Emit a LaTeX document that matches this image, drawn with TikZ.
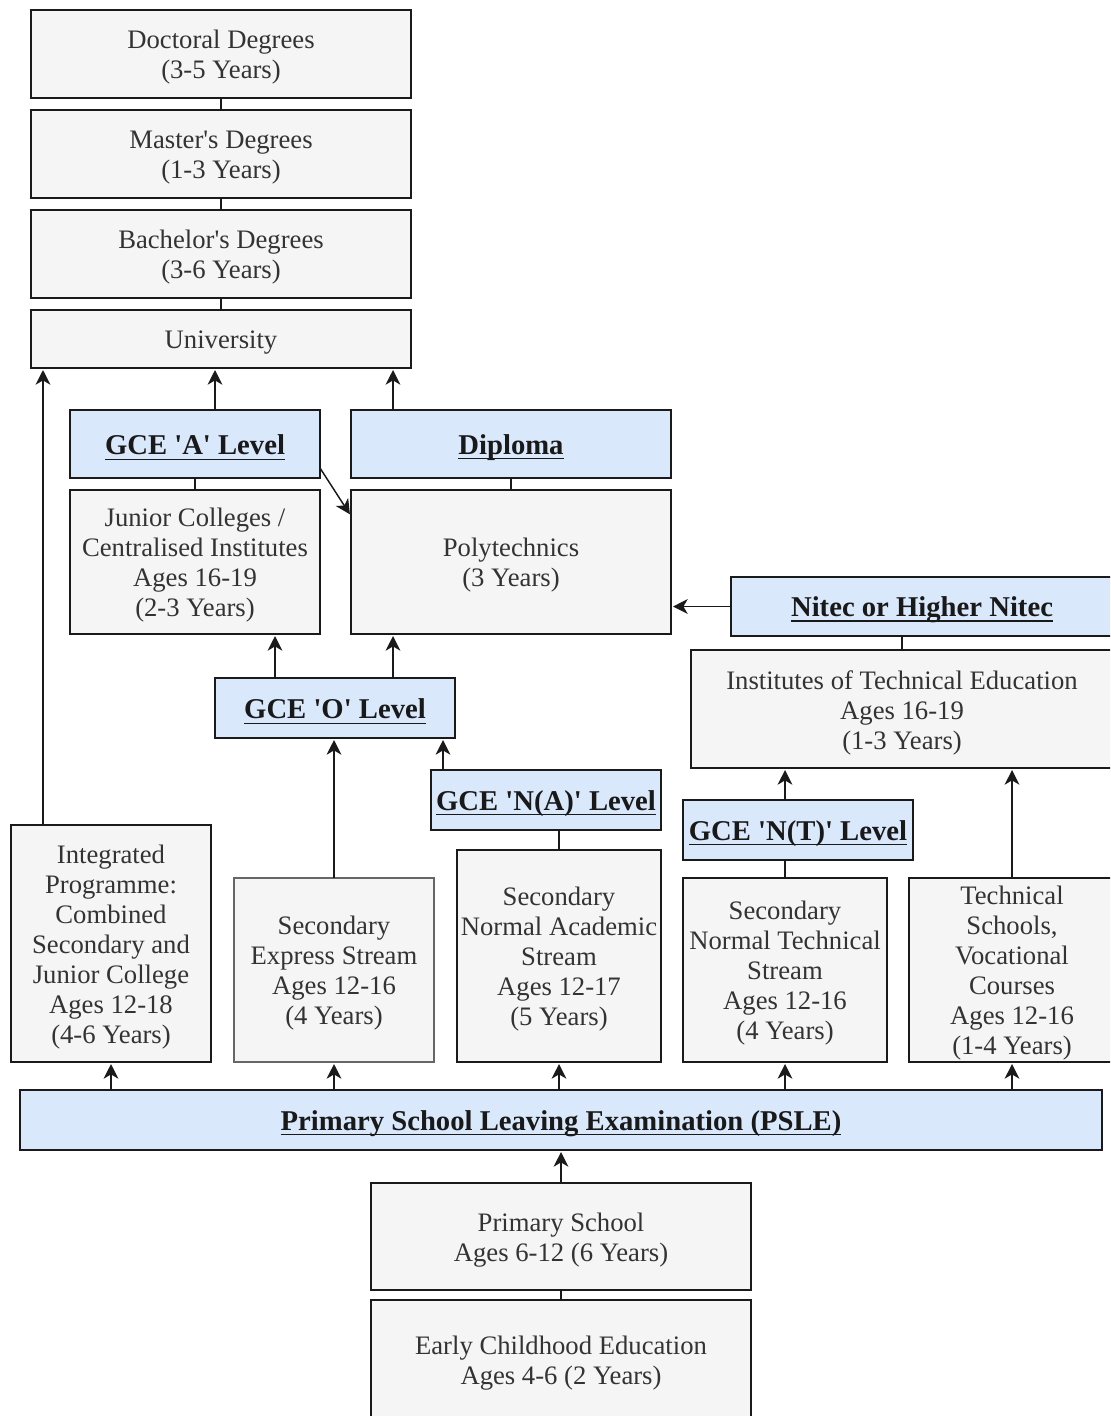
\documentclass[tikz,border=0pt]{standalone}
\usepackage{fontspec}
\setmainfont{Liberation Serif}
\usetikzlibrary{arrows.meta}

\definecolor{boxgrey}{HTML}{F5F5F5}
\definecolor{boxblue}{HTML}{DAE8FC}
\definecolor{edge}{HTML}{1A1A1A}
\definecolor{txt}{HTML}{333333}

% \placebox{name}{x1}{y1}{x2}{y2}{kind}{text}: box given by its corners (px, y downwards),
% with its text set a little below the geometric centre
\newcommand{\placebox}[7]{%
  \node[#6, minimum width={(#4-#2)*0.75pt}, minimum height={(#5-#3)*0.75pt}]
    (#1) at ({(#2+#4)/2},{(#3+#5)/2}) {};
  \node[#6 text] (#1-t) at ([yshift=-2.6pt]#1.center) {#7};}
\newcommand{\q}{\textquotesingle}
% underline at a fixed depth below the baseline
\newcommand{\underl}[1]{\leavevmode\setbox0=\hbox{#1}\rlap{\rule[-0.17em]{\wd0}{0.9pt}}\box0}

\tikzset{
  base/.style={rectangle, draw=edge, line width=1.1pt, inner sep=0pt, outer sep=0pt},
  grey/.style={base, fill=boxgrey},
  greysoft/.style={grey, draw=black!60, line width=2pt},
  blue/.style={base, fill=boxblue},
  grey text/.style={inner sep=0pt, align=center, text=txt, font=\fontsize{20}{22.5}\selectfont},
  greysoft text/.style={grey text},
  blue text/.style={inner sep=0pt, align=center, text=black!90, font=\fontsize{21.5}{24}\selectfont\bfseries},
  arr/.style={draw=edge, line width=1.1pt, -{Stealth[length=11pt,width=11pt,inset=3.2pt]}, shorten >=1.5pt},
  link/.style={draw=edge, line width=1.1pt},
}

\begin{document}
\begin{tikzpicture}[x=0.75pt, y=-0.75pt]
\useasboundingbox (0,0) rectangle (1110,1416);
\fill[white] (0,0) rectangle (1110,1416);
\clip (0,0) rectangle (1110,1416);

% higher education
\placebox{doc}{31}{10}{411}{98}{grey}{Doctoral Degrees\\(3-5 Years)}
\placebox{mas}{31}{110}{411}{198}{grey}{Master\q s Degrees\\(1-3 Years)}
\placebox{bac}{31}{210}{411}{298}{grey}{Bachelor\q s Degrees\\(3-6 Years)}
\placebox{uni}{31}{310}{411}{368}{grey}{University}

% post-secondary
\placebox{alev}{70}{410}{320}{478}{blue}{\underl{GCE \q A\q\ Level}}
\placebox{dip}{351}{410}{671}{478}{blue}{\underl{Diploma}}
\placebox{jc}{70}{490}{320}{634}{grey}{Junior Colleges /\\Centralised Institutes\\Ages 16-19\\(2-3 Years)}
\placebox{poly}{351}{490}{671}{634}{grey}{Polytechnics\\(3 Years)}
\placebox{nitec}{731}{577}{1113}{636}{blue}{\underl{Nitec or Higher Nitec}}
\placebox{ite}{691}{650}{1113}{768}{grey}{Institutes of Technical Education\\Ages 16-19\\(1-3 Years)}

% secondary examinations
\placebox{olev}{215}{678}{455}{738}{blue}{\underl{GCE \q O\q\ Level}}
\placebox{nalev}{431}{770}{661}{830}{blue}{\underl{GCE \q N(A)\q\ Level}}
\placebox{ntlev}{683}{800}{913}{860}{blue}{\underl{GCE \q N(T)\q\ Level}}

% secondary streams
\placebox{ip}{11}{825}{211}{1062}{grey}{Integrated\\Programme:\\Combined\\Secondary and\\Junior College\\Ages 12-18\\(4-6 Years)}
\placebox{exp}{234}{878}{434}{1062}{greysoft}{Secondary\\Express Stream\\Ages 12-16\\(4 Years)}
\placebox{na}{457}{850}{661}{1062}{grey}{Secondary\\Normal Academic\\Stream\\Ages 12-17\\(5 Years)}
\placebox{nt}{683}{878}{887}{1062}{grey}{Secondary\\Normal Technical\\Stream\\Ages 12-16\\(4 Years)}
\placebox{ts}{909}{878}{1115}{1062}{grey}{Technical\\Schools,\\Vocational\\Courses\\Ages 12-16\\(1-4 Years)}

% primary and early years
\placebox{psle}{20}{1090}{1102}{1150}{blue}{\underl{Primary School Leaving Examination (PSLE)}}
\placebox{pri}{371}{1183}{751}{1290}{grey}{Primary School\\Ages 6-12 (6 Years)}
\placebox{ece}{371}{1300}{751}{1420}{grey}{Early Childhood Education\\Ages 4-6 (2 Years)}

% plain links
\draw[link] (doc.south) -- (mas.north);
\draw[link] (mas.south) -- (bac.north);
\draw[link] (bac.south) -- (uni.north);
\draw[link] (alev.south) -- (jc.north);
\draw[link] (dip.south) -- (poly.north);
\draw[link] (ite.north) -- (ite.north |- nitec.south);
\draw[link] (na.north) -- (na.north |- nalev.south);
\draw[link] (nt.north) -- (nt.north |- ntlev.south);
\draw[link] (ece.north) -- (pri.south);

% progression arrows
\draw[arr] (43,0 |- ip.north) -- (43,0 |- uni.south);
\draw[arr] (215,0 |- alev.north) -- (215,0 |- uni.south);
\draw[arr] (393,0 |- dip.north) -- (393,0 |- uni.south);
\draw[arr] (320,468) -- (poly.north west |- 0,516);
\draw[arr] (nitec.west) -- (poly.east |- nitec.west);
\draw[arr] (275,0 |- olev.north) -- (275,0 |- jc.south);
\draw[arr] (393,0 |- olev.north) -- (393,0 |- poly.south);
\draw[arr] (exp.north) -- (exp.north |- olev.south);
\draw[arr] (443,0 |- nalev.north) -- (443,0 |- olev.south);
\draw[arr] (nt.north |- ntlev.north) -- (nt.north |- ite.south);
\draw[arr] (ts.north) -- (ts.north |- ite.south);
\draw[arr] (psle.north -| ip.south) -- (ip.south);
\draw[arr] (psle.north -| exp.south) -- (exp.south);
\draw[arr] (psle.north -| na.south) -- (na.south);
\draw[arr] (psle.north -| nt.south) -- (nt.south);
\draw[arr] (psle.north -| ts.south) -- (ts.south);
\draw[arr] (pri.north) -- (psle.south);
\end{tikzpicture}
\end{document}
